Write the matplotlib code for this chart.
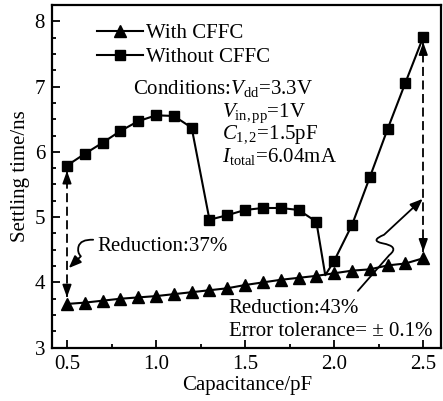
import matplotlib
matplotlib.use('Agg')
from matplotlib import pyplot as plt
from matplotlib.path import Path
from matplotlib.patches import FancyArrowPatch

plt.rcParams['font.family'] = ['Liberation Serif', 'DejaVu Serif']
plt.rcParams['mathtext.fontset'] = 'custom'
plt.rcParams['mathtext.rm'] = 'Liberation Serif'
plt.rcParams['mathtext.it'] = 'Liberation Serif:italic'
plt.rcParams['font.size'] = 15

# Data
cap_with = [0.5, 0.6, 0.7, 0.8, 0.9, 1.0, 1.1, 1.2, 1.3, 1.4, 1.5,
            1.6, 1.7, 1.8, 1.9, 2.0, 2.1, 2.2, 2.3, 2.4, 2.5]
t_with = [3.67, 3.69, 3.72, 3.75, 3.77, 3.79, 3.82, 3.85, 3.88, 3.91, 3.96,
          4.00, 4.04, 4.07, 4.10, 4.14, 4.18, 4.20, 4.26, 4.29, 4.37]

cap_without = [0.5, 0.6, 0.7, 0.8, 0.9, 1.0, 1.1, 1.2, 1.3, 1.4, 1.5,
               1.6, 1.7, 1.8, 1.9, 1.95, 2.0, 2.1, 2.2, 2.3, 2.4, 2.5]
t_without = [5.79, 5.97, 6.14, 6.32, 6.47, 6.56, 6.55, 6.37, 4.96, 5.03, 5.11,
             5.14, 5.14, 5.11, 4.93, 4.11, 4.33, 4.88, 5.61, 6.35, 7.06, 7.76]
# the 1.95 point is only the dip of the drawn curve, no marker there
marked_without = [i for i in range(len(cap_without)) if cap_without[i] != 1.95]

fig = plt.figure(figsize=(4.43, 4.01), dpi=100)
ax = fig.add_axes([0.1174, 0.133, 0.879, 0.8545])

ax.plot(cap_with, t_with, color='black', lw=1.5, marker='^', ms=8,
        label='With CFFC')
ax.plot(cap_without, t_without, color='black', lw=1.5, marker='s', ms=7,
        markevery=marked_without, label='Without CFFC')

# dashed double arrows between the two curves at both ends
for xi, top, bottom in [(cap_with[0], t_without[0], t_with[0]),
                        (cap_with[-1], t_without[-1], t_with[-1])]:
    y_hi = top - 0.08
    y_lo = bottom + 0.1
    ax.plot([xi, xi], [y_lo, y_hi], color='black', lw=1.3, ls=(0, (5, 2.5)))
    for tip, tail in [(y_hi, y_hi - 0.2), (y_lo, y_lo + 0.2)]:
        ax.annotate('', xy=(xi, tip), xytext=(xi, tail),
                    arrowprops=dict(arrowstyle='-|>,head_length=0.5,head_width=0.18',
                                    color='black', lw=1.2, shrinkA=0, shrinkB=0))

# squiggly annotation arrows
left_squiggle = Path([(0.647, 4.654), (0.575, 4.66), (0.565, 4.55),
                      (0.556, 4.46), (0.578, 4.40), (0.51, 4.22)],
                     [Path.MOVETO, Path.CURVE3, Path.CURVE3,
                      Path.CURVE3, Path.CURVE3, Path.LINETO])
right_squiggle = Path([(2.133, 3.87), (2.31, 4.42), (2.37, 4.55), (2.27, 4.60),
                       (2.20, 4.64), (2.28, 4.73), (2.497, 5.28)],
                      [Path.MOVETO, Path.LINETO, Path.CURVE3, Path.CURVE3,
                       Path.CURVE3, Path.CURVE3, Path.LINETO])
for p in [left_squiggle, right_squiggle]:
    ax.add_patch(FancyArrowPatch(path=p, arrowstyle='-|>,head_length=0.5,head_width=0.2',
                                 color='black', lw=1.3, mutation_scale=15))

ax.text(0.668, 4.485, 'Reduction:37%', va='baseline')
ax.text(1.408, 3.536, 'Reduction:43%', va='baseline')
ax.text(1.408, 3.18, 'Error tolerance= \u00b1 0.1%', va='baseline')

ax.text(0.87, 6.89, r'Conditions:$V_{\rm dd}$=3.3V', va='baseline')
ax.text(1.369, 6.54, r'$V_{\rm in,pp}$=1V', va='baseline')
ax.text(1.369, 6.19, r'$C_{\rm 1,2}$=1.5pF', va='baseline')
ax.text(1.369, 5.85, r'$I_{\rm total}$=6.04mA', va='baseline')

ax.legend(loc='upper left', bbox_to_anchor=(0.115, 0.945), frameon=False,
          borderpad=0, borderaxespad=0, handlelength=2.2, handletextpad=0.15,
          labelspacing=0.2)

ax.set_xlim(0.416, 2.602)
ax.set_ylim(3, 8.245)
ax.set_xticks([0.5, 1.0, 1.5, 2.0, 2.5])
ax.set_xticklabels(['0.5', '1.0', '1.5', '2.0', '2.5'])
ax.set_yticks([3, 4, 5, 6, 7, 8])
ax.set_xticks([0.75, 1.25, 1.75, 2.25], minor=True)
ax.set_yticks([3.25, 3.5, 3.75, 4.25, 4.5, 4.75, 5.25, 5.5, 5.75, 6.25,
               6.5, 6.75, 7.25, 7.5, 7.75, 8.25], minor=True)
ax.tick_params(which='both', direction='in', top=False, right=False, width=1.3)
ax.tick_params(which='major', length=6, pad=5)
ax.tick_params(which='minor', length=3)
for s in ax.spines.values():
    s.set_linewidth(1.6)

ax.set_xlabel('Capacitance/pF', labelpad=2)
ax.set_ylabel('Settling time/ns', labelpad=3)

fig.savefig('out.png', dpi=100)
